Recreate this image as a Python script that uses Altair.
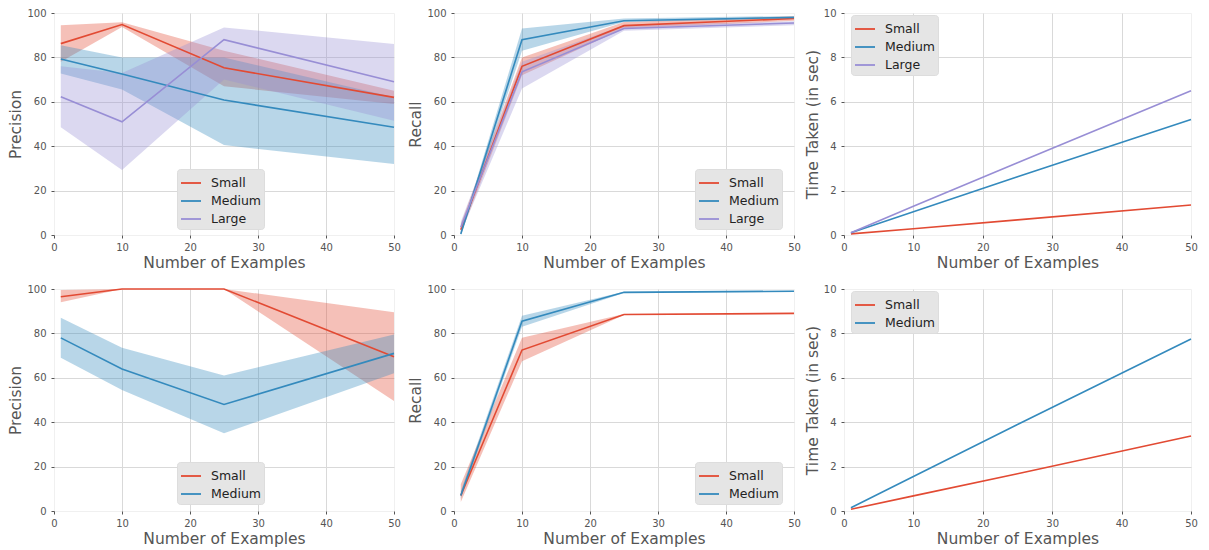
import altair as alt
import pandas as pd

X = [1, 10, 25, 50]
COLORS = ["#E24A33", "#348ABD", "#988ED5"]

# Top row: precision
p1_small = [86.2, 94.8, 75.3, 62.0]
p1_small_lo = [78.0, 93.7, 67.0, 59.0]
p1_small_hi = [94.5, 95.8, 83.0, 65.0]
p1_medium = [79.3, 72.5, 60.8, 48.5]
p1_medium_lo = [72.8, 65.5, 40.5, 32.0]
p1_medium_hi = [85.5, 80.0, 80.0, 62.0]
p1_large = [62.3, 51.0, 88.0, 69.0]
p1_large_lo = [48.5, 29.3, 70.0, 51.5]
p1_large_hi = [76.0, 73.0, 93.5, 86.0]

# Top row: recall
p2_small = [2.4, 76.0, 94.3, 97.5]
p2_small_lo = [0.5, 72.0, 93.0, 96.5]
p2_small_hi = [5.0, 80.0, 96.0, 98.5]
p2_medium = [0.5, 88.0, 96.5, 98.0]
p2_medium_lo = [0.0, 83.0, 96.0, 97.5]
p2_medium_hi = [1.2, 93.0, 97.5, 98.7]
p2_large = [3.5, 73.5, 93.0, 95.5]
p2_large_lo = [1.0, 66.0, 92.0, 94.5]
p2_large_hi = [6.0, 78.0, 94.5, 96.3]

# Top row: time
p3_small = [0.05, 0.28, 0.68, 1.35]
p3_medium = [0.10, 1.05, 2.62, 5.20]
p3_large = [0.10, 1.30, 3.25, 6.50]

# Bottom row: precision
p4_small = [96.5, 100.0, 100.0, 69.5]
p4_small_lo = [94.0, 100.0, 100.0, 49.5]
p4_small_hi = [99.5, 100.0, 100.0, 89.5]
p4_medium = [78.0, 64.0, 48.0, 71.0]
p4_medium_lo = [69.0, 54.5, 35.0, 62.0]
p4_medium_hi = [87.0, 73.5, 61.0, 79.5]

# Bottom row: recall
p5_small = [7.0, 72.5, 88.5, 89.0]
p5_small_lo = [4.0, 67.5, 88.3, 88.8]
p5_small_hi = [12.0, 78.0, 88.7, 89.2]
p5_medium = [7.0, 85.5, 98.5, 99.0]
p5_medium_lo = [5.5, 83.0, 98.2, 98.8]
p5_medium_hi = [9.0, 88.0, 98.8, 99.2]

# Bottom row: time
p6_small = [0.08, 0.68, 1.68, 3.38]
p6_medium = [0.15, 1.55, 3.90, 7.75]


def frame(series):
    rows = []
    for name, (mean, lo, hi) in series.items():
        for xv, m, l, h in zip(X, mean, lo, hi):
            rows.append(dict(x=xv, series=name, y=m, lo=l, hi=h))
    return pd.DataFrame(rows)


def panel(df, names, ymax, ystep, ytitle, legend, width, band=True):
    cscale = alt.Scale(domain=names, range=COLORS[: len(names)])
    leg = alt.Legend(title=None, **legend)
    xaxis = alt.Axis(
        values=[0, 10, 20, 30, 40, 50],
        title="Number of Examples",
        labelFlush=False,
        gridOpacity={"condition": {"test": "datum.value == 0 || datum.value == 50", "value": 0}, "value": 1},
    )
    yaxis = alt.Axis(
        values=list(range(0, ymax + 1, ystep)),
        title=ytitle,
        labelFlush=False,
        gridOpacity={"condition": {"test": "datum.value == 0 || datum.value == %d" % ymax, "value": 0}, "value": 1},
    )
    xenc = alt.X("x:Q", scale=alt.Scale(domain=[0, 50], nice=False), axis=xaxis)
    layers = []
    if band:
        area = alt.Chart(df).mark_area(opacity=0.35).encode(
            x=xenc,
            y=alt.Y("lo:Q", scale=alt.Scale(domain=[0, ymax], nice=False), axis=yaxis),
            y2="hi:Q",
            color=alt.Color("series:N", scale=cscale, legend=leg),
        )
        layers.append(area)
    line = alt.Chart(df).mark_line(strokeWidth=1.6).encode(
        x=xenc,
        y=alt.Y("y:Q", scale=alt.Scale(domain=[0, ymax], nice=False), axis=yaxis),
        color=alt.Color("series:N", scale=cscale, legend=leg),
    )
    layers.append(line)
    return alt.layer(*layers).properties(width=width, height=222)


S3 = ["Small", "Medium", "Large"]
S2 = ["Small", "Medium"]

p1 = panel(frame({"Small": (p1_small, p1_small_lo, p1_small_hi),
                  "Medium": (p1_medium, p1_medium_lo, p1_medium_hi),
                  "Large": (p1_large, p1_large_lo, p1_large_hi)}),
           S3, 100, 20, "Precision", dict(orient="none", legendX=123, legendY=156), 340)
p2 = panel(frame({"Small": (p2_small, p2_small_lo, p2_small_hi),
                  "Medium": (p2_medium, p2_medium_lo, p2_medium_hi),
                  "Large": (p2_large, p2_large_lo, p2_large_hi)}),
           S3, 100, 20, "Recall", dict(orient="none", legendX=241, legendY=156), 340)
p3 = panel(frame({"Small": (p3_small, p3_small, p3_small),
                  "Medium": (p3_medium, p3_medium, p3_medium),
                  "Large": (p3_large, p3_large, p3_large)}),
           S3, 10, 2, "Time Taken (in sec)", dict(orient="none", legendX=7, legendY=2), 347, band=False)
p4 = panel(frame({"Small": (p4_small, p4_small_lo, p4_small_hi),
                  "Medium": (p4_medium, p4_medium_lo, p4_medium_hi)}),
           S2, 100, 20, "Precision", dict(orient="none", legendX=123, legendY=173), 340)
p5 = panel(frame({"Small": (p5_small, p5_small_lo, p5_small_hi),
                  "Medium": (p5_medium, p5_medium_lo, p5_medium_hi)}),
           S2, 100, 20, "Recall", dict(orient="none", legendX=241, legendY=173), 340)
p6 = panel(frame({"Small": (p6_small, p6_small, p6_small),
                  "Medium": (p6_medium, p6_medium, p6_medium)}),
           S2, 10, 2, "Time Taken (in sec)", dict(orient="none", legendX=7, legendY=2), 347, band=False)


def ind(c):
    return c.resolve_scale(color="independent").resolve_legend(color="independent")


top = ind(alt.hconcat(ind(alt.hconcat(p1, p2, spacing=7)), p3, spacing=3))
bottom = ind(alt.hconcat(ind(alt.hconcat(p4, p5, spacing=7)), p6, spacing=3))

chart = (
    ind(alt.vconcat(top, bottom, spacing=12))
    .properties(padding={"left": 0, "top": -1, "right": 0, "bottom": 0}, background="white")
    .configure_view(stroke="#f0f0f0")
    .configure_axis(
        labelFont="DejaVu Sans",
        labelFontSize=10,
        labelColor="#555555",
        titleFont="DejaVu Sans",
        titleFontSize=15.5,
        titleFontWeight="normal",
        titleColor="#555555",
        gridColor="#d9d9d9",
        gridWidth=1,
        domain=False,
        tickColor="#555555",
        tickSize=3,
    )
    .configure_axisX(labelPadding=4, titlePadding=3)
    .configure_axisY(labelPadding=5, titlePadding=3)
    .configure_legend(
        fillColor="#E5E5E5",
        strokeColor="#dddddd",
        cornerRadius=3,
        padding=3,
        labelFont="DejaVu Sans",
        labelFontSize=12.5,
        labelColor="#222222",
        symbolType="stroke",
        symbolSize=400,
        symbolStrokeWidth=1.8,
        symbolOpacity=1,
        rowPadding=-2,
        labelOffset=9,
    )
)

chart.save("out.html", embed_options={"renderer": "svg", "actions": False})
